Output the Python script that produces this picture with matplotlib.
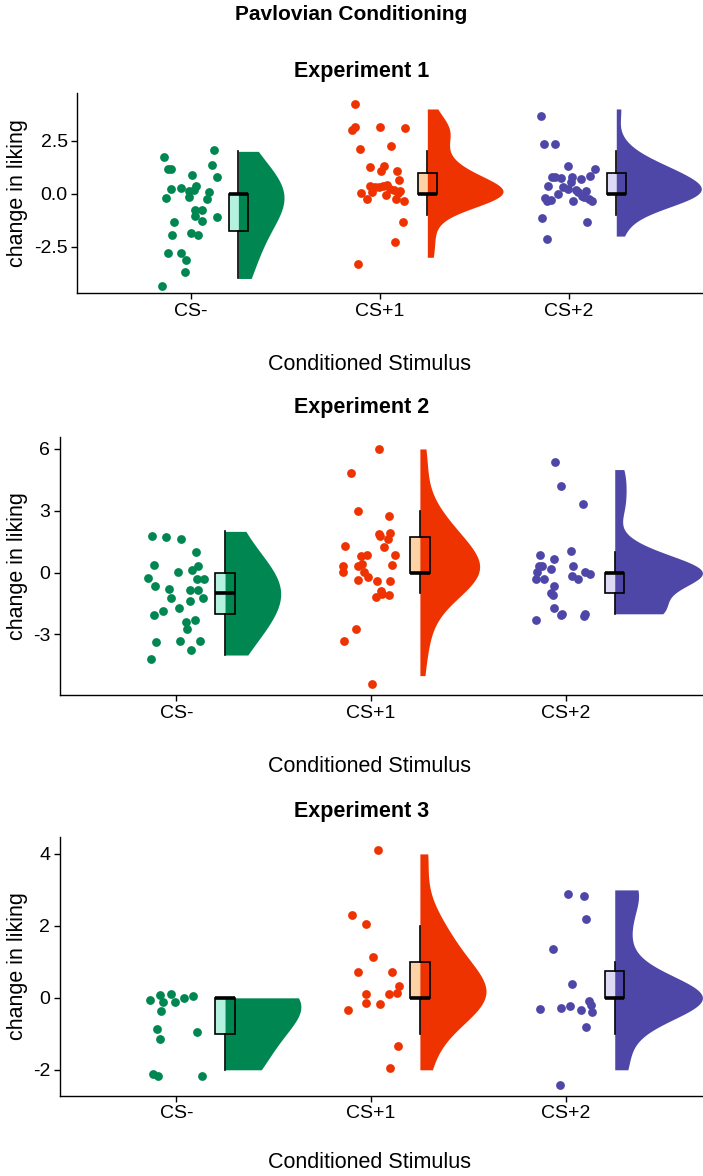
import numpy as np
import matplotlib
matplotlib.use("Agg")
import matplotlib.pyplot as plt
from matplotlib import cbook

plt.rcParams['font.family'] = ['Liberation Sans', 'DejaVu Sans']

categories = ["CS-", "CS+1", "CS+2"]
experiments = ["Experiment 1", "Experiment 2", "Experiment 3"]

# ---------------- Experiment 1 ----------------
e1_csm_score = [2, 2, 1, 1, 1, 1, 1, 0, 0, 0, 0, 0, 0, 0, 0, 0, -1, -1, -1, -1, -1, -1, -2, -2, -2, -3, -3, -3, -4, -4]
e1_csm_px = [0.122, -0.143, 0.109, -0.123, -0.104, 0.005, 0.138, -0.106, -0.053, 0.025, -0.014, 0.016, 0.095, -0.132, -0.009,
             0.085, 0.021, 0.056, 0.023, 0.055, 0.138, -0.092, -0.099, -0.002, 0.035, -0.125, -0.055, -0.025, -0.030, -0.155]
e1_csm_py = [2.08, 1.73, 1.35, 1.16, 1.15, 0.90, 0.77, 0.21, 0.28, 0.35, 0.13, 0.17, 0.10, -0.20, -0.14,
             -0.27, -0.78, -0.77, -1.05, -1.29, -1.10, -1.32, -1.96, -1.84, -1.96, -2.81, -2.81, -3.11, -3.69, -4.37]

e1_csp1_score = [4, 3, 3, 3, 3, 2, 2, 1, 1, 1, 1, 1, 0, 0, 0, 0, 0, 0, 0, 0, 0, 0, 0, 0, 0, 0, 0, -1, -2, -3]
e1_csp1_px = [-0.131, -0.131, -0.150, 0.000, 0.131, -0.108, 0.060, -0.051, 0.005, 0.023, 0.088, 0.101,
              -0.099, -0.069, -0.053, -0.041, -0.026, -0.004, 0.014, 0.035, 0.030, 0.053, 0.074, 0.085, 0.106, 0.129, 0.093,
              0.123, 0.078, -0.115]
e1_csp1_py = [4.23, 3.16, 3.00, 3.17, 3.10, 2.12, 2.25, 1.24, 1.08, 1.29, 1.05, 0.65,
              0.02, -0.24, 0.38, 0.08, 0.30, 0.30, 0.36, 0.40, -0.05, 0.22, 0.17, -0.25, 0.13, -0.33, 0.02,
              -1.32, -2.26, -3.32]

e1_csp2_score = [4, 2, 2, 1, 1, 1, 1, 1, 1, 1, 1, 1, 0, 0, 0, 0, 0, 0, 0, 0, 0, 0, 0, 0, 0, 0, -1, -1, -2, 0]
e1_csp2_px = [-0.150, -0.132, -0.076, -0.004, 0.138, -0.090, -0.072, -0.042, 0.018, 0.065, 0.111, 0.012,
              -0.113, -0.030, -0.004, 0.049, 0.090, 0.079, -0.058, -0.127, -0.116, -0.097, 0.019, 0.106, 0.120, 0.069,
              -0.145, 0.095, -0.118, 0.037]
e1_csp2_py = [3.66, 2.33, 2.33, 1.31, 1.18, 0.77, 0.77, 0.74, 0.77, 0.68, 0.84, 0.57,
              0.36, 0.33, 0.24, 0.09, 0.12, -0.17, -0.03, -0.22, -0.33, -0.28, -0.36, -0.27, -0.36, -0.10,
              -1.16, -1.35, -2.14, 0.17]

# ---------------- Experiment 2 ----------------
e2_csm_score = [2, 2, 2, 1, 0, 0, 0, 0, 0, 0, 0, -1, -1, -1, -1, -1, -1, -1, -2, -2, -2, -2, -2, -3, -3, -3, -3, -4, -4]
e2_csm_px = [-0.123, -0.053, 0.024, 0.101, -0.113, 0.079, 0.111, 0.007, -0.147, 0.105, 0.141, -0.109, -0.037, 0.070, 0.111,
             -0.029, 0.137, 0.072, 0.012, -0.068, -0.114, 0.050, 0.094, 0.056, -0.106, 0.017, 0.123, 0.075, -0.131]
e2_csm_py = [1.80, 1.72, 1.62, 1.00, 0.37, 0.15, 0.31, 0.02, -0.26, -0.32, -0.31, -0.66, -0.78, -0.84, -0.84,
             -1.24, -1.21, -1.37, -1.71, -1.84, -2.05, -2.38, -2.31, -2.75, -3.35, -3.32, -3.32, -3.77, -4.21]

e2_csp1_score = [6, 5, 3, 3, 2, 2, 2, 2, 1, 1, 1, 1, 1, 0, 0, 0, 0, 0, 0, 0, 0, 0, 0, -1, -1, -1, -1, -3, -3, -5]
e2_csp1_px = [0.039, -0.104, -0.068, 0.091, 0.038, 0.096, 0.086, 0.046, 0.065, -0.135, 0.120, -0.019, -0.050,
              -0.070, -0.046, -0.145, -0.145, 0.108, -0.067, -0.015, 0.031, 0.096, -0.039,
              0.051, 0.026, 0.091, 0.056, -0.080, -0.139, 0.002]
e2_csp1_py = [5.99, 4.82, 3.00, 2.74, 1.89, 1.94, 1.62, 1.78, 1.25, 1.30, 0.86, 0.83, 0.79,
              0.33, 0.42, 0.33, 0.03, 0.36, -0.35, -0.19, -0.39, -0.40, 0.05,
              -0.87, -1.17, -1.07, -1.03, -2.73, -3.32, -5.40]

e2_csp2_score = [5, 4, 3, 1, 1, 1, 0, 0, 0, 0, 0, 0, 0, 0, 0, 0, 0, -1, -1, -1, -2, -2, -2, -2, -2, -2]
e2_csp2_px = [-0.055, -0.027, 0.086, 0.024, -0.132, -0.060, -0.139, -0.121, -0.075, 0.038, -0.151, -0.156, -0.113,
              0.029, 0.060, 0.096, 0.125, -0.060, -0.079, -0.067, -0.060, -0.021, -0.024, 0.099, 0.092, -0.154]
e2_csp2_py = [5.37, 4.22, 3.35, 1.07, 0.84, 0.68, 0.34, 0.34, 0.19, 0.34, 0.02, -0.32, -0.32,
              -0.15, -0.31, 0.02, -0.05, -0.65, -0.99, -1.08, -1.70, -1.99, -2.05, -2.00, -2.10, -2.31]

# ---------------- Experiment 3 ----------------
e3_csm_score = [0, 0, 0, 0, 0, 0, 0, 0, -1, -1, -1, -2, -2, -2]
e3_csm_px = [-0.133, -0.082, -0.029, -0.067, -0.007, 0.038, 0.086, -0.079, -0.098, -0.085, 0.106, -0.121, -0.094, 0.132]
e3_csm_py = [-0.05, 0.08, 0.10, -0.12, -0.12, 0.00, 0.05, -0.36, -0.88, -1.15, -0.95, -2.12, -2.16, -2.18]

e3_csp1_score = [4, 2, 2, 1, 1, 1, 0, 0, 0, 0, 0, 0, 0, -1, -2]
e3_csp1_px = [0.034, -0.098, -0.029, 0.010, -0.070, 0.109, 0.145, -0.027, 0.089, 0.135, -0.024, 0.045, -0.118, 0.139, 0.098]
e3_csp1_py = [4.12, 2.31, 2.05, 1.14, 0.72, 0.72, 0.34, 0.10, 0.11, 0.14, -0.14, -0.17, -0.34, -1.33, -1.94]

e3_csp2_score = [3, 3, 2, 1, 0, 0, 0, 0, 0, 0, 0, 0, -1, -2]
e3_csp2_px = [0.010, 0.091, 0.101, -0.065, 0.032, 0.120, 0.130, -0.135, -0.027, 0.022, 0.079, 0.133, 0.101, -0.029]
e3_csp2_py = [2.89, 2.83, 2.19, 1.37, 0.38, -0.09, -0.19, -0.31, -0.27, -0.22, -0.35, -0.39, -0.81, -2.41]

# ---------------- styling ----------------
fill_colors = ["#008751", "#EE3300", "#4E47A8"]
box_fills = ["#B4F1DE", "#FDD3A6", "#DCDAF4"]

W, H = 703, 1176
fig = plt.figure(figsize=(W / 100, H / 100), dpi=100)


def rect(left, top, right, bottom):
    return [left / W, 1 - bottom / H, (right - left) / W, (bottom - top) / H]


def nrd0(x):
    x = np.asarray(x, float)
    sd = np.std(x, ddof=1)
    q75, q25 = np.percentile(x, [75, 25])
    lo = min(sd, (q75 - q25) / 1.34)
    if lo == 0:
        lo = sd if sd > 0 else 1.0
    return 0.9 * lo * len(x) ** (-0.2)


def kde(x, adjust=2.0, n=512):
    x = np.asarray(x, float)
    bw = adjust * nrd0(x)
    grid = np.linspace(x.min(), x.max(), n)
    d = np.exp(-0.5 * ((grid[:, None] - x[None, :]) / bw) ** 2).sum(1) / (len(x) * bw * np.sqrt(2 * np.pi))
    return grid, d


panels = [
    dict(rect=(77.4, 93.3, 703, 293.3), ylim=(-4.70, 4.74), xlim=(0.398, 3.709),
         yticks=[-2.5, 0, 2.5], yticklabels=["-2.5", "0.0", "2.5"],
         groups=[(e1_csm_score, e1_csm_px, e1_csm_py), (e1_csp1_score, e1_csp1_px, e1_csp1_py),
                 (e1_csp2_score, e1_csp2_px, e1_csp2_py)],
         title_y=72, xlabel_y=365),
    dict(rect=(60, 437, 703, 695), ylim=(-5.94, 6.58), xlim=(0.403, 3.703),
         yticks=[-3, 0, 3, 6], yticklabels=["-3", "0", "3", "6"],
         groups=[(e2_csm_score, e2_csm_px, e2_csm_py), (e2_csp1_score, e2_csp1_px, e2_csp1_py),
                 (e2_csp2_score, e2_csp2_px, e2_csp2_py)],
         title_y=408, xlabel_y=767),
    dict(rect=(60, 837, 703, 1095.7), ylim=(-2.72, 4.47), xlim=(0.403, 3.703),
         yticks=[-2, 0, 2, 4], yticklabels=["-2", "0", "2", "4"],
         groups=[(e3_csm_score, e3_csm_px, e3_csm_py), (e3_csp1_score, e3_csp1_px, e3_csp1_py),
                 (e3_csp2_score, e3_csp2_px, e3_csp2_py)],
         title_y=812, xlabel_y=1163),
]

for p, title in zip(panels, experiments):
    ax = fig.add_axes(rect(*p["rect"]))
    ax.set_xlim(*p["xlim"])
    ax.set_ylim(*p["ylim"])
    dens = [kde(g[0]) for g in p["groups"]]
    dmax = max(d.max() for _, d in dens)
    for i, (g, (grid, d)) in enumerate(zip(p["groups"], dens)):
        pos = i + 1
        score, px, py = g
        col = fill_colors[i]
        ax.scatter(pos + np.asarray(px), py, s=40, color=col, linewidths=0, zorder=2)
        stats = cbook.boxplot_stats(np.asarray(score, float), whis=1.5)
        ax.bxp(stats, positions=[pos + 0.25], widths=0.1, showfliers=False, showcaps=False,
               patch_artist=True, manage_ticks=False,
               boxprops=dict(facecolor=box_fills[i], edgecolor="none", zorder=3),
               whiskerprops=dict(linewidth=0), medianprops=dict(linewidth=0))
        ax.fill_betweenx(grid, pos + 0.25, pos + 0.25 + d / dmax * 0.45, color=col, linewidth=0, zorder=4)
        ax.bxp(stats, positions=[pos + 0.25], widths=0.1, showfliers=False, showcaps=False,
               patch_artist=True, manage_ticks=False,
               boxprops=dict(facecolor="none", edgecolor="black", linewidth=1.2, zorder=5),
               whiskerprops=dict(color="black", linewidth=1.2, zorder=5),
               medianprops=dict(color="black", linewidth=2.6, zorder=6, solid_capstyle="butt"))
    ax.set_xticks([1, 2, 3])
    ax.set_xticklabels(categories)
    ax.set_yticks(p["yticks"])
    ax.set_yticklabels(p["yticklabels"])
    for s in ["top", "right"]:
        ax.spines[s].set_visible(False)
    for s in ["left", "bottom"]:
        ax.spines[s].set_linewidth(1.0)
        ax.spines[s].set_color("black")
    ax.tick_params(axis="both", length=4, width=1.0, color="black", labelsize=14, labelcolor="black", pad=3)
    l, t, r, b = p["rect"]
    fig.text(18 / W, 1 - (t + b) / 2 / H, "change in liking", rotation=90, ha="center", va="center", fontsize=15.5)
    fig.text(362 / W, 1 - p["title_y"] / H, title, ha="center", va="center",
             fontsize=15.5, fontweight="bold")
    fig.text(370 / W, 1 - p["xlabel_y"] / H, "Conditioned Stimulus", ha="center", va="center",
             fontsize=15.5)

fig.text(0.5, 1 - 15 / H, "Pavlovian Conditioning", ha="center", va="center", fontsize=15, fontweight="bold")

fig.savefig("out.png", dpi=100)
